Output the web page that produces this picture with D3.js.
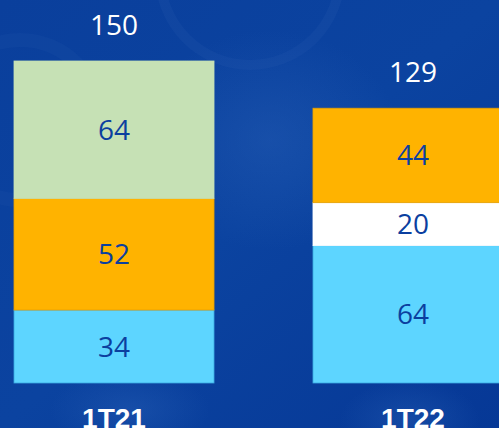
<!DOCTYPE html>
<html><head><meta charset="utf-8">
<script src="https://cdn.jsdelivr.net/npm/d3@7"></script>
<style>html,body{margin:0;padding:0;background:#063a96;overflow:hidden}</style>
</head><body>
<svg id="c" width="499" height="428"></svg>
<script>
const categories = ["1T21", "1T22"];
const base = [34, 64];      // light blue
const middle = [52, 0];     // orange (1T21)
const white = [0, 20];      // white (1T22)
const top1 = [64, 44];      // green (1T21) / orange (1T22)
const totals = ["150", "129"];

const W = 499, H = 428;
const svg = d3.select("#c");
const defs = svg.append("defs");
const lg = defs.append("linearGradient").attr("id","bg").attr("x1",0).attr("y1",0).attr("x2",1).attr("y2",1);
lg.append("stop").attr("offset","0%").attr("stop-color","#0a3f9c");
lg.append("stop").attr("offset","50%").attr("stop-color","#0b43a0");
lg.append("stop").attr("offset","100%").attr("stop-color","#063896");
svg.append("rect").attr("width",W).attr("height",H).attr("fill","url(#bg)");
const rg = defs.append("radialGradient").attr("id","glow");
rg.append("stop").attr("offset","0%").attr("stop-color","#2a62b8").attr("stop-opacity",0.4);
rg.append("stop").attr("offset","100%").attr("stop-color","#2a62b8").attr("stop-opacity",0);
svg.append("ellipse").attr("cx",270).attr("cy",140).attr("rx",130).attr("ry",110).attr("fill","url(#glow)");
svg.append("ellipse").attr("cx",130).attr("cy",410).attr("rx",80).attr("ry",40).attr("fill","url(#glow)");
svg.append("ellipse").attr("cx",410).attr("cy",420).attr("rx",70).attr("ry",40).attr("fill","url(#glow)");
svg.append("circle").attr("cx",250).attr("cy",-25).attr("r",90).attr("fill","none").attr("stroke","#2a5db4").attr("stroke-opacity",0.18).attr("stroke-width",10);
svg.append("circle").attr("cx",20).attr("cy",120).attr("r",80).attr("fill","none").attr("stroke","#2a5db4").attr("stroke-opacity",0.14).attr("stroke-width",14);

const x = d3.scaleBand().domain(categories).range([14, 513]).paddingInner(0.331).paddingOuter(0);
const y = d3.scaleLinear().domain([0, 150]).range([383, 61]);

const segs = [];
categories.forEach((c, i) => {
  const layers = [
    {v: base[i], fill: "#5dd5ff", stroke: "#3aa8e0"},
    {v: middle[i], fill: "#ffb300", stroke: "#e8a000"},
    {v: white[i], fill: "#ffffff", stroke: "#ffffff"},
    {v: top1[i], fill: i === 0 ? "#c6e1b5" : "#ffb300", stroke: i === 0 ? "#c6e1b5" : "#e8a000"}
  ];
  let acc = 0;
  layers.forEach(l => {
    if (l.v > 0) { segs.push({c, y0: acc, y1: acc + l.v, v: l.v, fill: l.fill, stroke: l.stroke}); acc += l.v; }
  });
});

svg.selectAll("rect.seg").data(segs).enter().append("rect")
  .attr("class","seg")
  .attr("x", d => x(d.c))
  .attr("width", x.bandwidth())
  .attr("y", d => y(d.y1))
  .attr("height", d => y(d.y0) - y(d.y1))
  .attr("fill", d => d.fill)
  .attr("stroke", d => d.stroke).attr("stroke-width", 0.8);

svg.selectAll("text.val").data(segs).enter().append("text")
  .attr("x", d => x(d.c) + x.bandwidth()/2)
  .attr("y", d => (y(d.y0) + y(d.y1))/2 + 10)
  .attr("text-anchor","middle")
  .attr("font-family","'Open Sans', sans-serif")
  .attr("font-size", 28)
  .attr("fill","#0b3f9f")
  .text(d => d.v);

svg.selectAll("text.tot").data(categories).enter().append("text")
  .attr("x", d => x(d) + x.bandwidth()/2)
  .attr("y", (d, i) => y(base[i] + middle[i] + white[i] + top1[i]) - 26)
  .attr("text-anchor","middle")
  .attr("font-family","'Open Sans', sans-serif")
  .attr("font-size", 28)
  .attr("fill","#ffffff")
  .text((d, i) => totals[i]);

svg.selectAll("text.cat").data(categories).enter().append("text")
  .attr("x", d => x(d) + x.bandwidth()/2)
  .attr("y", 428)
  .attr("text-anchor","middle")
  .attr("font-family","'Liberation Sans', Arial, sans-serif")
  .attr("font-weight","bold")
  .attr("font-size", 28)
  .attr("fill","#ffffff")
  .text(d => d);
</script>
</body></html>
